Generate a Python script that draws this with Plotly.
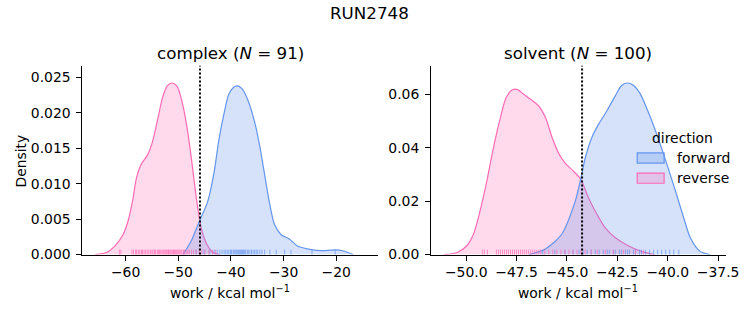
import plotly.graph_objects as go

# ---------------- data ----------------
# KDE curves: x = work (kcal/mol), y = density
cx_fwd_x = [-49.1, -47.55, -46.0, -44.44, -43.2, -42.3, -41.34, -40.4, -39.48, -38.85, -37.9,
            -36.68, -35.4, -34.5, -33.56, -32.6, -31.7, -30.45, -28.9, -27.35, -25.5, -23.0,
            -20.2, -18.6, -16.8]
cx_fwd_y = [0.0, 0.0019, 0.0047, 0.0074, 0.0116, 0.0161, 0.0198, 0.0226, 0.0236, 0.0238, 0.0234,
            0.0216, 0.0184, 0.0152, 0.0111, 0.0070, 0.0042, 0.0028, 0.0022, 0.0012, 0.0008, 0.00055,
            0.00065, 0.0005, 0.0]
cx_rev_x = [-65.8, -63.6, -62.05, -60.5, -59.55, -58.6, -58.0, -57.07, -55.8, -54.9, -53.96, -53.0,
            -52.1, -51.16, -50.2, -49.3, -48.35, -47.4, -46.8, -46.2, -45.56, -44.6, -43.4, -42.1]
cx_rev_y = [0.0, 0.0003, 0.0012, 0.0028, 0.0047, 0.0079, 0.0106, 0.0127, 0.0141, 0.0159, 0.0189, 0.0221,
            0.0238, 0.0242, 0.0237, 0.0216, 0.0180, 0.0129, 0.0093, 0.0061, 0.0035, 0.0015, 0.0003, 0.0]

sv_fwd_x = [-46.88, -46.07, -45.26, -44.6, -44.32, -44.07, -43.75, -43.42, -43.02, -42.61, -42.29,
            -42.01, -41.72, -41.39, -40.99, -40.5, -40.01, -39.6, -39.2, -38.88, -38.39, -37.9]
sv_fwd_y = [0.0, 0.0021, 0.0076, 0.0197, 0.0282, 0.0368, 0.0441, 0.0489, 0.0538, 0.0593, 0.0633,
            0.0642, 0.0635, 0.0605, 0.0538, 0.0441, 0.0331, 0.0234, 0.0136, 0.0063, 0.0012, 0.0]
sv_rev_x = [-51.1, -50.45, -49.97, -49.64, -49.32, -48.99, -48.67, -48.34, -48.02, -47.7, -47.45,
            -47.13, -46.8, -46.4, -46.07, -45.75, -45.42, -45.1, -44.69, -44.32, -43.91, -43.5,
            -43.1, -42.6, -41.96, -41.31, -40.66]
sv_rev_y = [0.0, 0.0008, 0.0033, 0.0076, 0.0161, 0.0270, 0.0392, 0.0501, 0.0587, 0.0617, 0.0617,
            0.0599, 0.0581, 0.0556, 0.0514, 0.0441, 0.0380, 0.0343, 0.0313, 0.0282, 0.0209, 0.0149,
            0.0100, 0.0063, 0.0033, 0.0012, 0.0]

# rug (individual work values, approximate)
cx_fwd_rug = [-46.6, -45.1, -44.0, -43.2, -42.6, -42.1, -41.7, -41.3, -41.0, -40.7, -40.4, -40.1,
              -39.9, -39.6, -39.4, -39.2, -39.0, -38.8, -38.6, -38.4, -38.2, -38.0, -37.8, -37.6,
              -37.4, -37.2, -36.9, -36.7, -36.4, -36.1, -35.8, -35.5, -35.2, -34.9, -34.5, -34.1,
              -33.6, -32.6, -31.4, -29.8, -28.6, -24.6, -20.2]
cx_rev_rug = [-61.2, -60.9, -58.8, -58.5, -58.1, -57.9, -57.6, -57.3, -57.0, -56.8, -56.5, -56.2,
              -55.9, -55.6, -55.3, -55.0, -54.8, -54.5, -54.3, -54.0, -53.8, -53.6, -53.4, -53.1,
              -52.9, -52.7, -52.5, -52.3, -52.1, -51.9, -51.8, -51.6, -51.4, -51.2, -51.0, -50.9,
              -50.7, -50.5, -50.3, -50.1, -49.9, -49.7, -49.5, -49.3, -49.0, -48.8, -48.5, -48.2,
              -47.9, -47.5, -47.1, -46.6, -46.0, -45.5, -44.9, -44.2, -43.5, -42.9]
sv_fwd_rug = [-46.2, -45.6, -45.1, -44.7, -44.4, -44.2, -44.0, -43.8, -43.6, -43.4, -43.2, -43.0,
              -42.9, -42.7, -42.6, -42.4, -42.3, -42.1, -42.0, -41.9, -41.7, -41.6, -41.4, -41.3,
              -41.1, -40.9, -40.7, -40.5, -40.3, -40.1, -39.9, -39.7, -39.45]
sv_rev_rug = [-49.2, -49.1, -48.95, -48.5, -48.4, -48.3, -48.2, -48.1, -48.0, -47.9, -47.8, -47.7,
              -47.6, -47.5, -47.4, -47.3, -47.2, -47.1, -47.0, -46.9, -46.8, -46.7, -46.6, -46.5,
              -46.4, -46.3, -46.1, -45.9, -45.7, -45.5, -45.3, -45.1, -44.9, -44.7, -44.5, -44.3,
              -44.1, -43.8, -43.5, -43.1, -42.7, -42.2, -41.6, -41.2]

# vertical dotted reference lines (free-energy estimate)
cx_vline = -45.88
sv_vline = -44.25

fig_title = "RUN2748"
panel_titles = ["complex (<i>N</i> = 91)", "solvent (<i>N</i> = 100)"]
x_label = "work / kcal mol<sup>−1</sup>"
y_label = "Density"
legend_title = "direction"
directions = ["forward", "reverse"]

# ---------------- styling ----------------
BLUE = "#6495ED"
PINK = "#FF69B4"
BLUE_FILL = "rgba(100,149,237,0.27)"
PINK_FILL = "rgba(255,105,180,0.25)"
FONT = "DejaVu Sans"
W, H = 753, 325

fig = go.Figure()

panels = [
    dict(xa="x", ya="y", fwd=(cx_fwd_x, cx_fwd_y), rev=(cx_rev_x, cx_rev_y),
         rf=cx_fwd_rug, rr=cx_rev_rug, vl=cx_vline),
    dict(xa="x2", ya="y2", fwd=(sv_fwd_x, sv_fwd_y), rev=(sv_rev_x, sv_rev_y),
         rf=sv_fwd_rug, rr=sv_rev_rug, vl=sv_vline),
]

for p in panels:
    # reverse drawn first, forward on top (seaborn layering)
    fig.add_trace(go.Scatter(x=p["rev"][0], y=p["rev"][1], mode="lines", fill="tozeroy",
                             line=dict(color=PINK, width=1.2, shape="spline", smoothing=0.8),
                             fillcolor=PINK_FILL, name=directions[1], showlegend=False,
                             xaxis=p["xa"], yaxis=p["ya"], hoverinfo="skip"))
    fig.add_trace(go.Scatter(x=p["fwd"][0], y=p["fwd"][1], mode="lines", fill="tozeroy",
                             line=dict(color=BLUE, width=1.2, shape="spline", smoothing=0.8),
                             fillcolor=BLUE_FILL, name=directions[0], showlegend=False,
                             xaxis=p["xa"], yaxis=p["ya"], hoverinfo="skip"))
    for vals, col in ((p["rf"], BLUE), (p["rr"], PINK)):
        for v in vals:
            fig.add_shape(type="line", xref=p["xa"], yref=p["ya"] + " domain",
                          x0=v, x1=v, y0=0, y1=0.026,
                          line=dict(color=col, width=1), opacity=0.7, layer="above")
    fig.add_shape(type="line", xref=p["xa"], yref=p["ya"] + " domain",
                  x0=p["vl"], x1=p["vl"], y0=0, y1=1,
                  line=dict(color="black", width=2, dash="2px,2px"), layer="above")

# legend (hue = direction), drawn in the solvent panel like seaborn does
legend_items = [(directions[0], BLUE, BLUE_FILL, 162.0), (directions[1], PINK, PINK_FILL, 182.7)]
for name, col, fcol, yc in legend_items:
    fig.add_shape(type="rect", xref="paper", yref="paper",
                  x0=649.3 / W, x1=676.7 / W, y0=1 - (yc + 5.2) / H, y1=1 - (yc - 5.2) / H,
                  fillcolor=fcol, line=dict(color=col, width=1.2), layer="above")
    fig.add_annotation(text=name, x=687.5 / W, y=1 - yc / H, xref="paper", yref="paper",
                       showarrow=False, xanchor="left", yanchor="middle",
                       font=dict(family=FONT, size=13.9, color="black"))
fig.add_annotation(text=legend_title, x=695.5 / W, y=1 - 141 / H, xref="paper", yref="paper",
                   showarrow=False, xanchor="center", yanchor="middle",
                   font=dict(family=FONT, size=13.9, color="black"))

axis_common = dict(showline=True, linecolor="black", linewidth=1.1, ticks="outside",
                   ticklen=5, tickwidth=1.1, tickcolor="black", showgrid=False,
                   zeroline=False, mirror=False,
                   tickfont=dict(family=FONT, size=13.9, color="black"))

fig.update_layout(
    width=W, height=H,
    margin=dict(l=0, r=0, t=0, b=0),
    paper_bgcolor="white", plot_bgcolor="white",
    font=dict(family=FONT, size=13.9, color="black"),
    showlegend=False,
    xaxis=dict(domain=[84 / W, 385 / W], range=[-68.2, -12.1], dtick=10, tick0=0,
               anchor="y", **axis_common),
    yaxis=dict(domain=[64 / H, 257.7 / H], range=[0, 0.02665], dtick=0.005,
               tickformat=".3f", anchor="x", ticklabelstandoff=3, **axis_common),
    xaxis2=dict(domain=[439.3 / W, 739.3 / W], range=[-51.74, -37.13], dtick=2.5, tick0=0,
                tickformat=".1f", anchor="y2", **axis_common),
    yaxis2=dict(domain=[64 / H, 257.7 / H], range=[0, 0.0707], dtick=0.02,
                tickformat=".2f", anchor="x2", ticklabelstandoff=3, **axis_common),
)

texts = [
    dict(text=fig_title, x=376.5, y=13, size=16.7, angle=0),
    dict(text=panel_titles[0], x=234.5, y=54, size=16.7, angle=0),
    dict(text=panel_titles[1], x=589.3, y=54, size=16.7, angle=0),
    dict(text=x_label, x=234.5, y=299, size=13.9, angle=0),
    dict(text=x_label, x=589.3, y=299, size=13.9, angle=0),
    dict(text=y_label, x=21, y=165, size=13.9, angle=-90),
]
for t in texts:
    fig.add_annotation(text=t["text"], x=t["x"] / W, y=1 - t["y"] / H, xref="paper", yref="paper",
                       showarrow=False, textangle=t["angle"], xanchor="center", yanchor="middle",
                       font=dict(family=FONT, size=t["size"], color="black"))

fig.write_html("out.html")
